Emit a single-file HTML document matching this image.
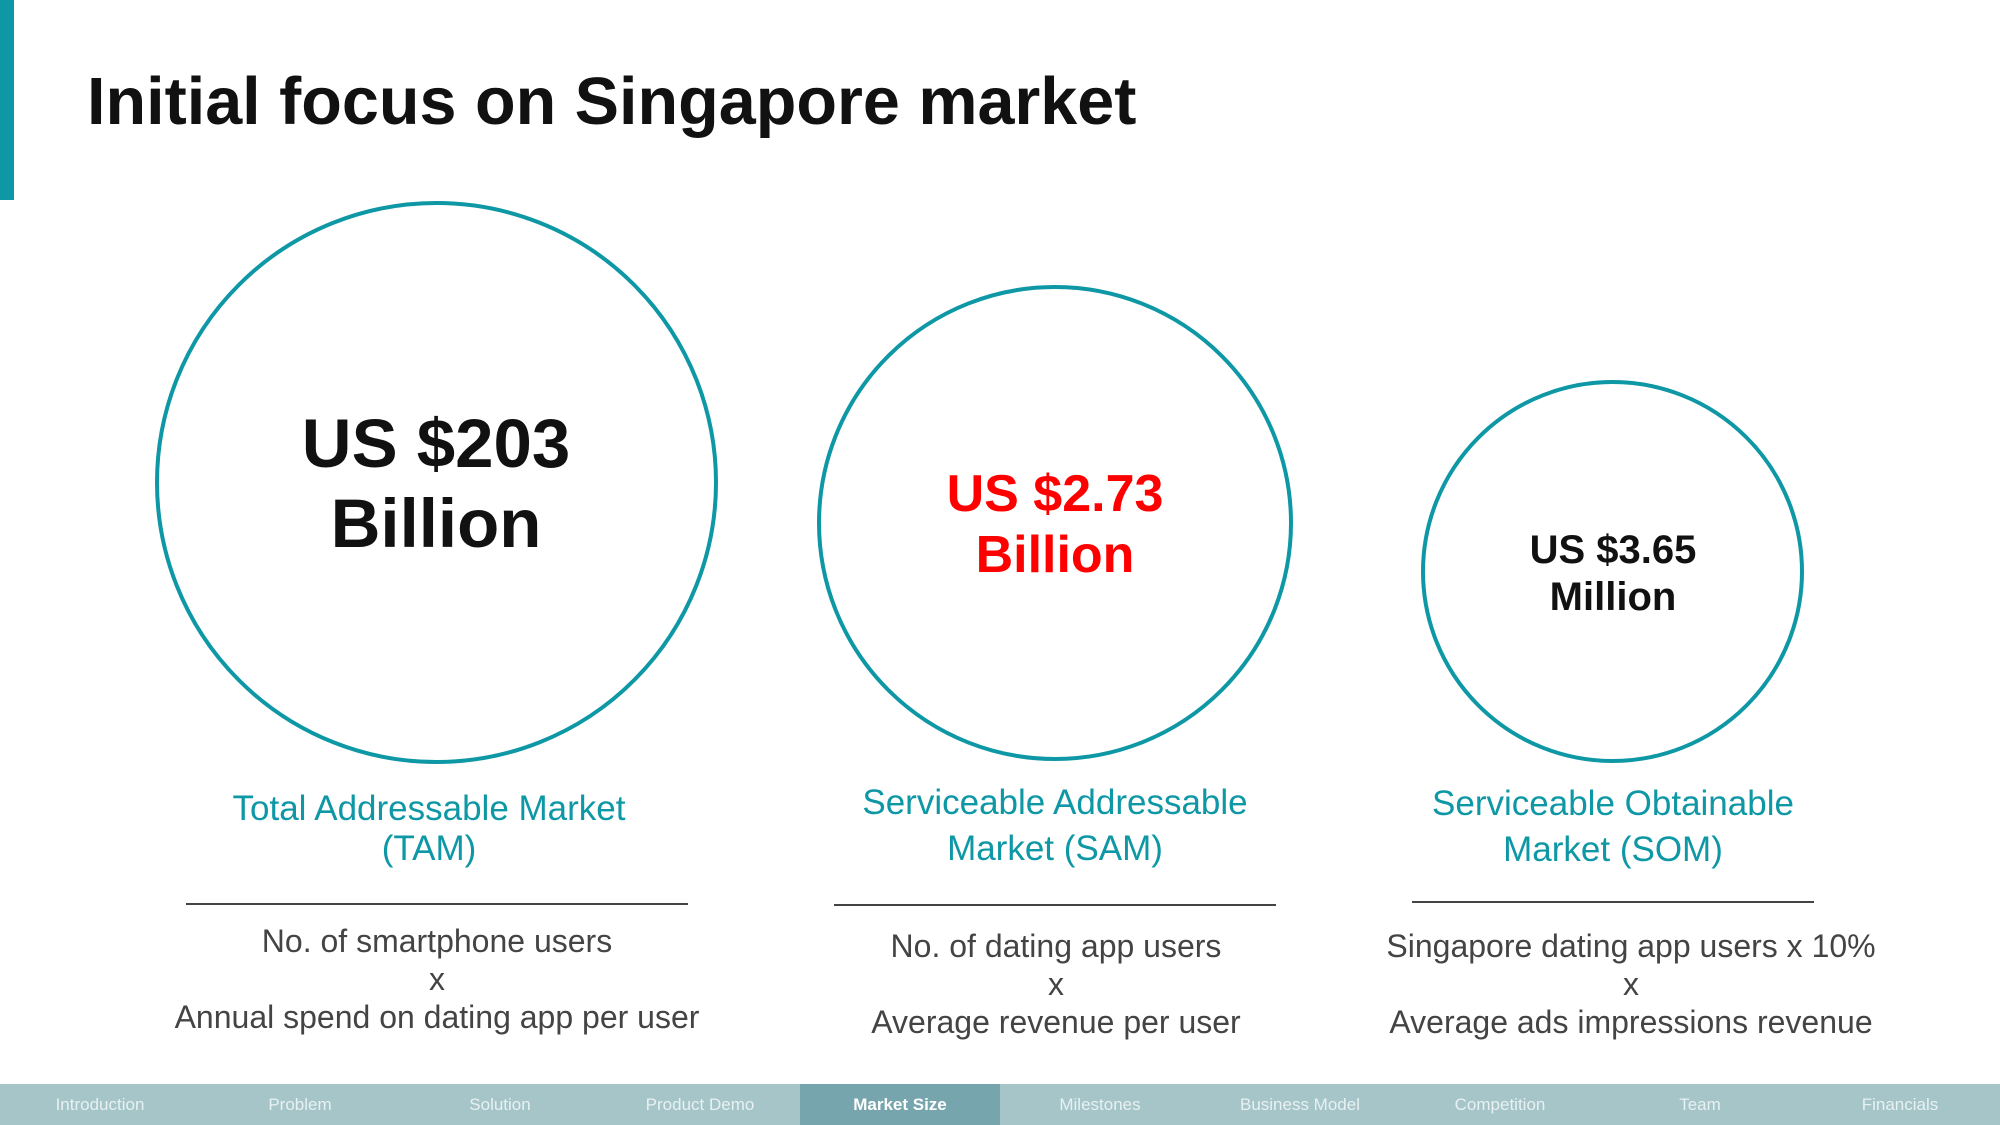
<!DOCTYPE html>
<html><head><meta charset="utf-8"><style>
body{margin:0;width:2000px;height:1125px;position:relative;background:#fff;font-family:"Liberation Sans",sans-serif;overflow:hidden}
.a{position:absolute}
.c{position:absolute;border:4px solid #0e97a5;border-radius:50%;box-sizing:border-box}
.t{position:absolute;transform:translate(-50%,-50%);white-space:nowrap;text-align:center}
.nav{position:absolute;left:0;top:1084px;width:2000px;height:41px;background:#a5c5c9;display:flex}
.nav div{width:200px;text-align:center;line-height:41px;color:#e8f1f2;font-size:17px}
.nav .on{background:#76a5ae;color:#fff;font-weight:bold}
</style></head><body>
<div class="a" style="left:0;top:0;width:14px;height:200px;background:#0e97a5"></div>
<div class="a" style="left:87px;top:64px;font-size:66.5px;font-weight:bold;color:#111">Initial focus on Singapore market</div>

<div class="c" style="left:155px;top:201px;width:563px;height:563px"></div>
<div class="c" style="left:817px;top:285px;width:476px;height:476px"></div>
<div class="c" style="left:1421px;top:380px;width:383px;height:383px"></div>

<div class="t" style="left:436px;top:484px;font-size:69px;font-weight:bold;line-height:80px;color:#111">US $203<br>Billion</div>
<div class="t" style="left:1055px;top:525px;font-size:52px;font-weight:bold;line-height:61px;color:#f00">US $2.73<br>Billion</div>
<div class="t" style="left:1613px;top:574px;font-size:40px;font-weight:bold;line-height:47px;color:#111">US $3.65<br>Million</div>

<div class="t" style="left:429px;top:829px;font-size:35px;line-height:40px;color:#0e97a5">Total Addressable Market<br>(TAM)</div>
<div class="t" style="left:1055px;top:826px;font-size:35px;line-height:46px;color:#0e97a5">Serviceable Addressable<br>Market (SAM)</div>
<div class="t" style="left:1613px;top:827px;font-size:35px;line-height:46px;color:#0e97a5">Serviceable Obtainable<br>Market (SOM)</div>

<div class="a" style="left:186px;top:903px;width:502px;height:2px;background:#444"></div>
<div class="a" style="left:834px;top:904px;width:442px;height:2px;background:#444"></div>
<div class="a" style="left:1412px;top:901px;width:402px;height:2px;background:#444"></div>

<div class="t" style="left:437px;top:979px;font-size:32px;line-height:38px;color:#444">No. of smartphone users<br>x<br>Annual spend on dating app per user</div>
<div class="t" style="left:1056px;top:984px;font-size:32px;line-height:38px;color:#444">No. of dating app users<br>x<br>Average revenue per user</div>
<div class="t" style="left:1631px;top:984px;font-size:32px;line-height:38px;color:#444">Singapore dating app users x 10%<br>x<br>Average ads impressions revenue</div>

<div class="nav">
<div>Introduction</div>
<div>Problem</div>
<div>Solution</div>
<div>Product Demo</div>
<div class="on">Market Size</div>
<div>Milestones</div>
<div>Business Model</div>
<div>Competition</div>
<div>Team</div>
<div>Financials</div>
</div>
</body></html>
